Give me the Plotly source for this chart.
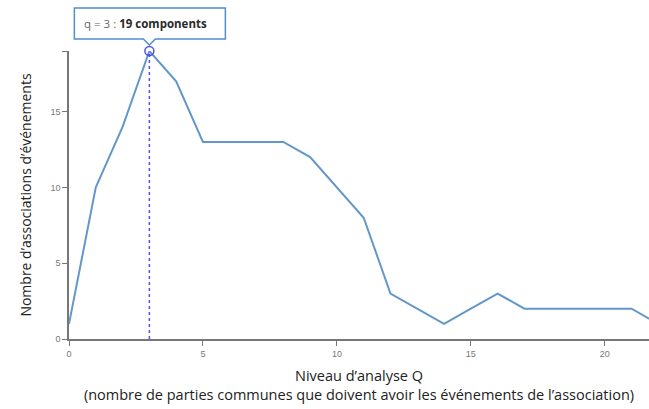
import plotly.graph_objects as go

q_levels = list(range(0, 23))
components = [1, 10, 14, 19, 17, 13, 13, 13, 13, 12, 10, 8, 3, 2, 1, 2, 3, 2, 2, 2, 2, 2, 1]
x_ticks = [0, 5, 10, 15, 20]
y_ticks = [0, 5, 10, 15, 19]
y_tick_labels = ["0", "5", "10", "15", ""]
sel_q = 3
sel_val = components[q_levels.index(sel_q)]

X_RANGE = [0, 21.65]
Y_RANGE = [0, 19]

LINE = "#6497c9"
HL = "#5050ee"
AX = "#777777"

fig = go.Figure()
fig.add_trace(go.Scatter(x=q_levels, y=components, mode="lines",
                         line=dict(color=LINE, width=2), hoverinfo="skip"))
fig.add_trace(go.Scatter(x=[sel_q, sel_q], y=[0, sel_val], mode="lines",
                         line=dict(color=HL, width=1.5, dash="dot"), hoverinfo="skip"))
fig.add_trace(go.Scatter(x=[sel_q], y=[sel_val], mode="markers",
                         marker=dict(symbol="circle-open", size=9, color=HL, line=dict(width=1.5)),
                         cliponaxis=False, hoverinfo="skip"))

# tooltip bubble anchored (in paper units) at the selected point
px = (sel_q - X_RANGE[0]) / (X_RANGE[1] - X_RANGE[0])
py = (sel_val - Y_RANGE[0]) / (Y_RANGE[1] - Y_RANGE[0])
fig.add_shape(type="path", xref="paper", yref="paper", xsizemode="pixel", ysizemode="pixel",
              xanchor=px, yanchor=py,
              path="M -75 12 L -6 12 L 0 6 L 6 12 L 76 12 L 76 43 L -75 43 Z",
              line=dict(color="#4f8fd0", width=1.5), fillcolor="white", layer="above")
fig.add_annotation(x=sel_q, y=sel_val, xref="x", yref="y", xanchor="left", yanchor="middle",
                   xshift=-67, yshift=28, showarrow=False,
                   text=f"<span style='color:#666'>q = {sel_q} :</span> <b>{sel_val} components</b>",
                   font=dict(family="Open Sans", size=11.5, color="#2a2a2a"))

fig.update_layout(
    width=649, height=409, margin=dict(l=69, r=0, t=51, b=70, autoexpand=False),
    paper_bgcolor="white", plot_bgcolor="white", showlegend=False,
    font=dict(family="Open Sans", color="#222"),
    xaxis=dict(range=X_RANGE, tickvals=x_ticks, showgrid=False, zeroline=False, automargin=False,
               showline=True, linecolor=AX, linewidth=1.5, ticks="outside", ticklen=5,
               tickcolor=AX, tickfont=dict(family="Liberation Sans", size=9, color="#777"),
               title=dict(text="Niveau d’analyse Q<br>(nombre de parties communes que doivent avoir les événements de l’association)",
                          font=dict(family="Open Sans", size=14.5, color="#222"), standoff=13)),
    yaxis=dict(range=Y_RANGE, tickvals=y_ticks, ticktext=y_tick_labels, showgrid=False,
               zeroline=False, showline=True, linecolor=AX, linewidth=1.5, ticks="outside",
               automargin=False,
               ticklen=5, tickcolor=AX, tickfont=dict(family="Liberation Sans", size=9, color="#777"),
               title=dict(text="Nombre d’associations d’événements",
                          font=dict(family="Open Sans", size=14, color="#222"), standoff=16)),
)
fig.write_html("out.html", config={"displayModeBar": False},
               post_script="document.body.style.margin='0px';document.body.style.overflow='hidden';")
